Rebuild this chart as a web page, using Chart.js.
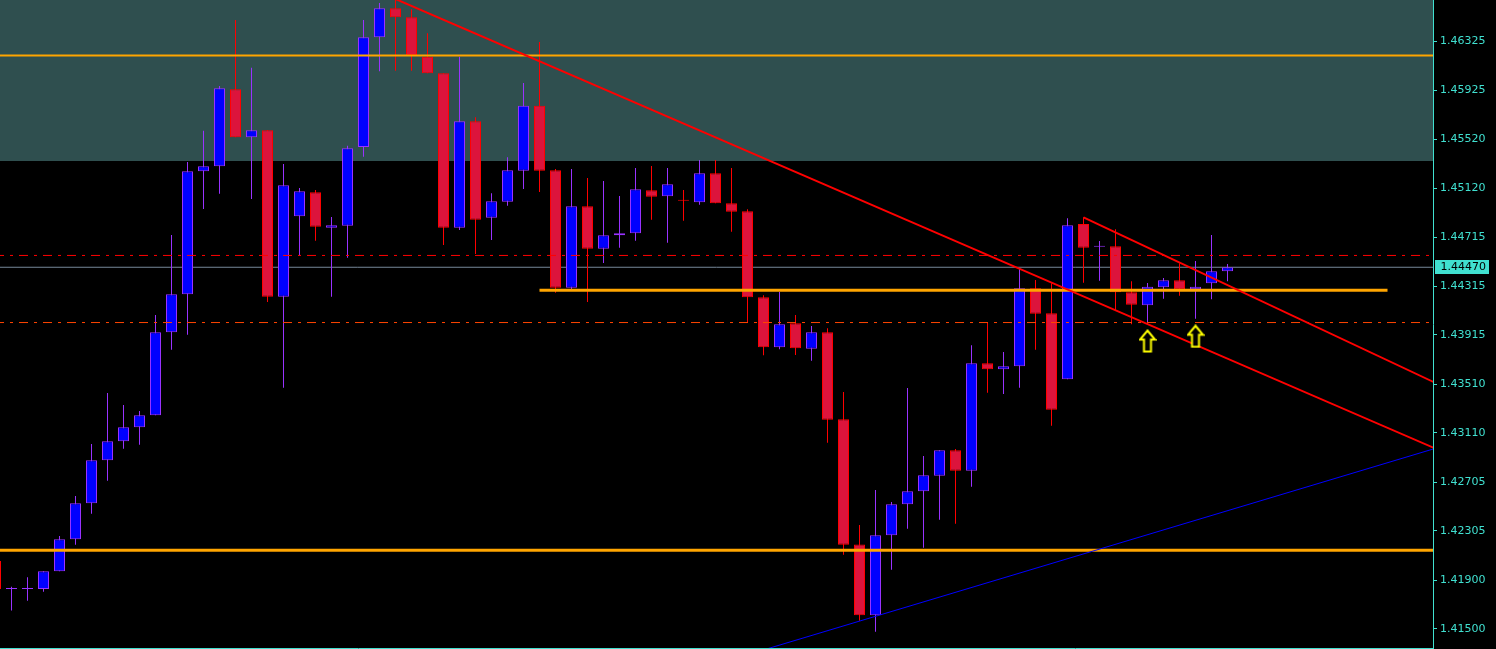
<!DOCTYPE html>
<html>
<head>
<meta charset="utf-8">
<style>
  html, body { margin: 0; padding: 0; background: #000; overflow: hidden; }
  canvas { display: block; }
</style>
<script src="https://cdn.jsdelivr.net/npm/chart.js"></script>
</head>
<body>
<canvas id="chart" width="1496" height="649"></canvas>
<script>
// candles, oldest first (the first one is cut by the left edge)
const opens = [
  1.42058, 1.41828, 1.41828, 1.41828, 1.41973, 1.42236, 1.42531, 1.42885, 1.43041, 1.43156,
  1.43254, 1.43936, 1.44248, 1.45258, 1.45299, 1.45932, 1.45537, 1.45595, 1.44228, 1.44889,
  1.45086, 1.44795, 1.44811, 1.45458, 1.46359, 1.46597, 1.46523, 1.46199, 1.46063, 1.44795,
  1.45669, 1.44877, 1.45009, 1.45263, 1.45797, 1.45266, 1.44302, 1.44971, 1.44622, 1.44733,
  1.44749, 1.45102, 1.45053, 1.45017, 1.45004, 1.45242, 1.44995, 1.44929, 1.44223, 1.43813,
  1.44010, 1.43801, 1.43936, 1.43221, 1.42194, 1.41612, 1.42269, 1.42523, 1.42630, 1.42758,
  1.42967, 1.42799, 1.43681, 1.43632, 1.43657, 1.44297, 1.44092, 1.43550, 1.44825, 1.44639,
  1.44642, 1.44264, 1.44158, 1.44305, 1.44363, 1.44289, 1.44338, 1.44437
];
const highs = [
  1.42080, 1.41847, 1.41925, 1.41973, 1.42263, 1.42591, 1.43018, 1.43437, 1.43339, 1.43290,
  1.44078, 1.44735, 1.45335, 1.45592, 1.45959, 1.46501, 1.46109, 1.45595, 1.45318, 1.45121,
  1.45105, 1.44883, 1.45468, 1.46501, 1.46640, 1.46673, 1.46589, 1.46392, 1.46063, 1.46199,
  1.45702, 1.45077, 1.45373, 1.45983, 1.46320, 1.45277, 1.45277, 1.45203, 1.45178, 1.45055,
  1.45285, 1.45302, 1.45285, 1.45105, 1.45351, 1.45351, 1.45285, 1.44946, 1.44240, 1.44267,
  1.44078, 1.43988, 1.43969, 1.43445, 1.42353, 1.42641, 1.42542, 1.43478, 1.42920, 1.42967,
  1.42977, 1.43829, 1.44015, 1.43774, 1.44461, 1.44365, 1.44338, 1.44872, 1.44880, 1.44686,
  1.44782, 1.44355, 1.44341, 1.44382, 1.44503, 1.44521, 1.44735, 1.44497
];
const lows = [
  1.41800, 1.41650, 1.41731, 1.41805, 1.41973, 1.42191, 1.42446, 1.42717, 1.42980, 1.43013,
  1.43254, 1.43793, 1.43916, 1.44949, 1.45074, 1.45537, 1.45031, 1.44185, 1.43481, 1.44565,
  1.44688, 1.44228, 1.44549, 1.45378, 1.46079, 1.46084, 1.46084, 1.46063, 1.44653, 1.44776,
  1.44579, 1.44694, 1.44976, 1.45113, 1.45088, 1.44261, 1.44290, 1.44185, 1.44505, 1.44631,
  1.44688, 1.44861, 1.44672, 1.44852, 1.44984, 1.44995, 1.44762, 1.44020, 1.43747, 1.43796,
  1.43749, 1.43703, 1.43029, 1.42109, 1.41567, 1.41477, 1.41986, 1.42323, 1.42167, 1.42397,
  1.42364, 1.42668, 1.43440, 1.43429, 1.43481, 1.43793, 1.43169, 1.43550, 1.44343, 1.44360,
  1.44119, 1.44002, 1.44004, 1.44212, 1.44236, 1.44048, 1.44207, 1.44355
];
const closes = [
  1.41828, 1.41828, 1.41828, 1.41973, 1.42236, 1.42531, 1.42885, 1.43041, 1.43156, 1.43254,
  1.43936, 1.44248, 1.45258, 1.45299, 1.45940, 1.45537, 1.45595, 1.44228, 1.45143, 1.45094,
  1.44803, 1.44815, 1.45447, 1.46359, 1.46597, 1.46523, 1.46213, 1.46063, 1.44795, 1.45669,
  1.44861, 1.45012, 1.45266, 1.45797, 1.45263, 1.44302, 1.44971, 1.44622, 1.44733, 1.44749,
  1.45110, 1.45050, 1.45151, 1.45016, 1.45242, 1.44995, 1.44926, 1.44223, 1.43813, 1.44002,
  1.43804, 1.43936, 1.43218, 1.42191, 1.41612, 1.42269, 1.42523, 1.42630, 1.42761, 1.42967,
  1.42799, 1.43681, 1.43632, 1.43657, 1.44297, 1.44089, 1.43300, 1.44815, 1.44631, 1.44639,
  1.44264, 1.44163, 1.44310, 1.44363, 1.44289, 1.44310, 1.44437, 1.44470
];

const tickValues = [1.46325, 1.45925, 1.45520, 1.45120, 1.44715, 1.44315, 1.43915,
  1.43510, 1.43110, 1.42705, 1.42305, 1.41900, 1.41500];

// drawn objects (x = bar number, y = price)
const zoneBottom = 1.45343;
const orangeLevels = [1.46209, 1.42145];
const orangeSegment = [{x: 34, y: 1.44281}, {x: 87, y: 1.44281}];
const redDashLevel = 1.44567;
const orangeDashLevel = 1.44016;
const longTrend = [{x: 25, y: 1.46673}, {x: 90, y: 1.42981}];
const shortTrend = [{x: 68, y: 1.44880}, {x: 90, y: 1.43520}];
const blueTrend = [{x: 40, y: 1.41012}, {x: 90, y: 1.42983}];
const arrowMarks = [{x: 72, y: 1.43864}, {x: 75, y: 1.43903}];

const lastPrice = closes[closes.length - 1];

const xMin = 0.28125, xMax = 89.84375;
const yMin = 1.41343, yMax = 1.46665;

const axisColor = '#40e0d0';
const bullFill = '#0000ff', bullLine = '#9932ff';
const bearFill = '#dc143c', bearLine = '#ff0000';

const isBull = i => closes[i] >= opens[i];
const hline = y => [{x: xMin - 1, y: y}, {x: xMax + 1, y: y}];

// hollow up arrow like the terminal's arrow object
const arrowIcon = (() => {
  const c = document.createElement('canvas');
  c.width = 18; c.height = 24;
  const g = c.getContext('2d');
  g.beginPath();
  g.moveTo(9, 1.5);
  g.lineTo(16.5, 10.5);
  g.lineTo(12.5, 10.5);
  g.lineTo(12.5, 22.5);
  g.lineTo(5.5, 22.5);
  g.lineTo(5.5, 10.5);
  g.lineTo(1.5, 10.5);
  g.closePath();
  g.fillStyle = '#000';
  g.fill();
  g.lineWidth = 2;
  g.strokeStyle = '#ffff00';
  g.stroke();
  return c;
})();

const lineSet = (data, color, width, order, extra = {}) => Object.assign({
  type: 'line', data: data, borderColor: color, borderWidth: width,
  pointRadius: 0, fill: false, tension: 0, order: order
}, extra);

const bodies = opens.map((o, i) => ({x: i, y: [o, closes[i]]}));
const wicks = lows.map((l, i) => ({x: i, y: [l, highs[i]]}));

const background = {
  id: 'background',
  beforeDraw(chart) {
    const {ctx, width, height} = chart;
    ctx.save();
    ctx.fillStyle = '#000';
    ctx.fillRect(0, 0, width, height);
    ctx.restore();
  }
};

const priceTag = {
  id: 'priceTag',
  afterDraw(chart) {
    const {ctx, chartArea, scales: {y}} = chart;
    const py = Math.round(y.getPixelForValue(lastPrice));
    ctx.save();
    ctx.fillStyle = axisColor;
    ctx.fillRect(chartArea.right + 2, py - 7, 54, 14);
    ctx.fillStyle = '#000';
    ctx.font = '11px "DejaVu Sans"';
    ctx.textBaseline = 'middle';
    ctx.fillText(lastPrice.toFixed(5), chartArea.right + 7.5, py + 0.5);
    ctx.restore();
  }
};

new Chart(document.getElementById('chart'), {
  type: 'bar',
  data: {
    datasets: [
      lineSet(hline(zoneBottom), 'rgba(0,0,0,0)', 0, 100, {fill: 'end', backgroundColor: '#2f4f4f'}),
      lineSet(hline(lastPrice), '#778899', 1, 90),
      {
        data: wicks, barThickness: 1, grouped: false, borderWidth: 0, inflateAmount: 0,
        backgroundColor: wicks.map((w, i) => isBull(i) ? bullLine : bearLine), order: 80
      },
      {
        data: bodies, barThickness: 11, grouped: false, minBarLength: 1, inflateAmount: 0,
        borderWidth: 1, borderSkipped: false,
        backgroundColor: bodies.map((b, i) => isBull(i) ? bullFill : bearFill),
        borderColor: bodies.map((b, i) => isBull(i) ? bullLine : bearLine), order: 70
      },
      lineSet(hline(redDashLevel), '#ff0000', 1, 50, {borderDash: [9, 6, 3, 6], borderDashOffset: 13}),
      lineSet(hline(orangeDashLevel), '#ff4500', 1, 50, {borderDash: [9, 6, 3, 6], borderDashOffset: 13}),
      lineSet(hline(orangeLevels[0]), '#ffa500', 2, 40),
      lineSet(hline(orangeLevels[1]), '#ffa500', 3, 40),
      lineSet(orangeSegment, '#ffa500', 3, 40),
      lineSet(longTrend, '#ff0000', 2, 30),
      lineSet(shortTrend, '#ff0000', 2, 30),
      lineSet(blueTrend, '#0000ff', 1, 30),
      {
        type: 'line', data: arrowMarks, showLine: false, pointStyle: arrowIcon,
        pointRadius: 10, order: 10
      }
    ]
  },
  options: {
    responsive: false,
    animation: false,
    events: [],
    layout: { padding: 0, autoPadding: false },
    plugins: { legend: { display: false }, tooltip: { enabled: false } },
    scales: {
      x: {
        type: 'linear', min: xMin, max: xMax, offset: false,
        grid: { display: false },
        ticks: { display: false },
        border: { display: true, color: axisColor, width: 1 },
        afterFit: s => { s.height = 1; s.paddingLeft = 0; s.paddingRight = 0; }
      },
      y: {
        type: 'linear', position: 'right', min: yMin, max: yMax,
        grid: { drawOnChartArea: false, color: axisColor, tickLength: 4 },
        border: { display: true, color: axisColor, width: 1 },
        ticks: {
          color: axisColor, padding: 3, autoSkip: false,
          font: { family: 'DejaVu Sans', size: 11 },
          callback: v => v.toFixed(5)
        },
        afterBuildTicks: s => { s.ticks = tickValues.map(v => ({value: v})); },
        afterFit: s => { s.width = 63; s.paddingTop = 0; s.paddingBottom = 0; }
      }
    }
  },
  plugins: [background, priceTag]
});
</script>
</body>
</html>
